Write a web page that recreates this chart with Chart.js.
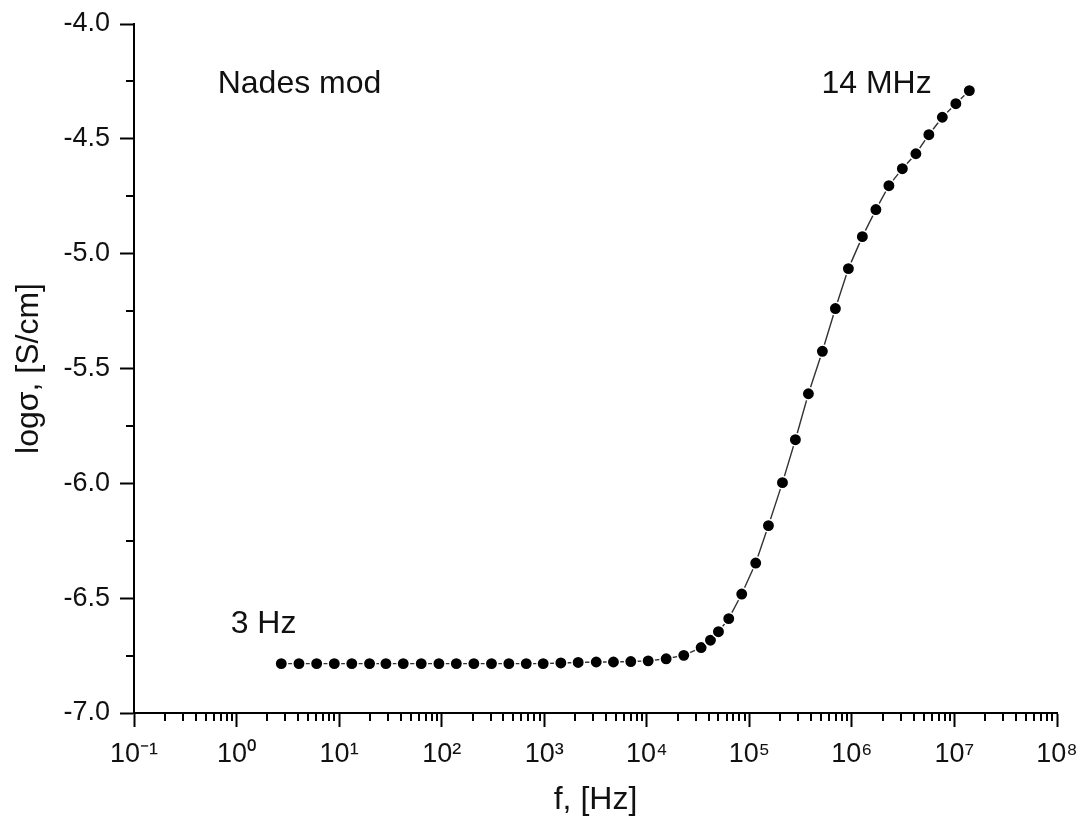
<!DOCTYPE html>
<html>
<head>
<meta charset="utf-8">
<script src="https://cdn.jsdelivr.net/npm/chart.js@4.4.1/dist/chart.umd.min.js"></script>
<style>
  html, body { margin: 0; padding: 0; background: #ffffff; }
  #wrap { width: 1081px; height: 827px; }
</style>
</head>
<body>
<div id="wrap"><canvas id="c" width="1081" height="827"></canvas></div>
<script>
// ---- data ----
const freqHz = [2.73, 4.06, 6.04, 8.98, 13.3, 19.8, 28.6, 42.2, 63.2, 94, 139, 206, 306, 452, 668, 977,
  1452, 2143, 3214, 4732, 6984, 10320, 15450, 22950, 33890, 41780, 50000, 63000, 84300, 115400,
  153600, 210400, 281300, 376700, 515600, 690500, 924800, 1265000, 1714000, 2295000, 3105000,
  4206000, 5630000, 7620000, 10320000, 13970000];
const logSigma = [-6.785, -6.785, -6.785, -6.785, -6.785, -6.785, -6.785, -6.785, -6.785, -6.785,
  -6.785, -6.785, -6.785, -6.785, -6.785, -6.785,
  -6.782, -6.780, -6.778, -6.778, -6.776, -6.773, -6.764, -6.749, -6.715, -6.683, -6.646, -6.589,
  -6.482, -6.347, -6.184, -5.997, -5.810, -5.610, -5.425, -5.239, -5.065, -4.926, -4.808, -4.704,
  -4.630, -4.565, -4.482, -4.406, -4.347, -4.290];
const xTickValues = [0.1, 1, 10, 100, 1000, 10000, 100000, 1000000, 10000000, 100000000];
const xTickLabels = ['10\u207B\u00B9', '10\u2070', '10\u00B9', '10\u00B2', '10\u00B3',
  '10\u2074', '10\u2075', '10\u2076', '10\u2077', '10\u2078'];
const yTickValues = [-7.0, -6.5, -6.0, -5.5, -5.0, -4.5, -4.0];
const yTickLabels = ['-7.0', '-6.5', '-6.0', '-5.5', '-5.0', '-4.5', '-4.0'];
const yMinorValues = [-6.75, -6.25, -5.75, -5.25, -4.75, -4.25];
const minorMultipliers = [2, 3, 4, 5, 6, 7, 8, 9];
// annotation texts anchored in data coordinates (left edge, baseline)
const noteTexts = ['Nades mod', '14 MHz', '3 Hz'];
const noteX = [0.655, 505000, 0.876];
const noteY = [-4.299, -4.299, -6.650];

const FONT = "'Liberation Sans', Arial, sans-serif";
const points = freqHz.map((f, i) => ({ x: f, y: logSigma[i] }));

const extras = {
  id: 'extras',
  afterDraw(chart) {
    const { ctx, chartArea } = chart;
    const xs = chart.scales.x, ys = chart.scales.y;
    ctx.save();
    ctx.strokeStyle = '#000';
    ctx.lineWidth = 2;
    ctx.beginPath();
    for (let d = 0; d < xTickValues.length - 1; d++) {
      minorMultipliers.forEach(m => {
        const px = Math.round(xs.getPixelForValue(xTickValues[d] * m));
        ctx.moveTo(px, chartArea.bottom);
        ctx.lineTo(px, chartArea.bottom + 8);
      });
    }
    yMinorValues.forEach(v => {
      const py = Math.round(ys.getPixelForValue(v));
      ctx.moveTo(chartArea.left - 8, py);
      ctx.lineTo(chartArea.left, py);
    });
    ctx.stroke();
    ctx.fillStyle = '#111';
    ctx.font = '32px ' + FONT;
    ctx.textAlign = 'left';
    ctx.textBaseline = 'alphabetic';
    noteTexts.forEach((t, i) => {
      ctx.fillText(t, xs.getPixelForValue(noteX[i]), ys.getPixelForValue(noteY[i]));
    });
    ctx.restore();
  }
};

new Chart(document.getElementById('c'), {
  type: 'line',
  data: {
    datasets: [{
      data: points,
      borderColor: '#333',
      borderWidth: 1.4,
      tension: 0,
      fill: false,
      pointRadius: 6.2,
      pointBorderWidth: 1.5,
      pointBackgroundColor: '#000',
      pointBorderColor: '#fff',
      pointHoverRadius: 6.2
    }]
  },
  options: {
    responsive: false,
    animation: false,
    devicePixelRatio: 1,
    layout: { padding: { top: 24, right: 24, left: 0, bottom: 0 } },
    plugins: { legend: { display: false }, tooltip: { enabled: false } },
    scales: {
      x: {
        type: 'logarithmic',
        position: 'bottom',
        min: 0.1,
        max: 100000000,
        afterBuildTicks: s => { s.ticks = xTickValues.map(v => ({ value: v })); },
        afterFit: s => { s.height = 114; s.paddingLeft = 0; s.paddingRight = 0; },
        ticks: {
          autoSkip: false,
          maxRotation: 0,
          padding: 11,
          color: '#111',
          font: { family: FONT, size: 27 },
          callback: (v) => { const i = xTickValues.indexOf(v); return i >= 0 ? xTickLabels[i] : ''; }
        },
        grid: { drawOnChartArea: false, drawTicks: true, tickLength: 14, tickWidth: 2, tickColor: '#000' },
        border: { display: true, color: '#000', width: 2 },
        title: { display: true, text: 'f, [Hz]', color: '#111', font: { family: FONT, size: 32 }, padding: { top: 0, bottom: 8 } }
      },
      y: {
        type: 'linear',
        position: 'left',
        min: -7,
        max: -4,
        afterBuildTicks: s => { s.ticks = yTickValues.map(v => ({ value: v })); },
        afterFit: s => { s.width = 134; s.paddingTop = 0; s.paddingBottom = 0; },
        ticks: {
          padding: 10,
          color: '#111',
          font: { family: FONT, size: 27 },
          callback: (v) => { const i = yTickValues.indexOf(v); return i >= 0 ? yTickLabels[i] : ''; }
        },
        grid: { drawOnChartArea: false, drawTicks: true, tickLength: 14, tickWidth: 2, tickColor: '#000' },
        border: { display: true, color: '#000', width: 2 },
        title: { display: true, text: 'log\u03C3, [S/cm]', color: '#111', font: { family: FONT, size: 32 }, padding: { top: 10, bottom: 0 } }
      }
    }
  },
  plugins: [extras]
});
</script>
</body>
</html>
